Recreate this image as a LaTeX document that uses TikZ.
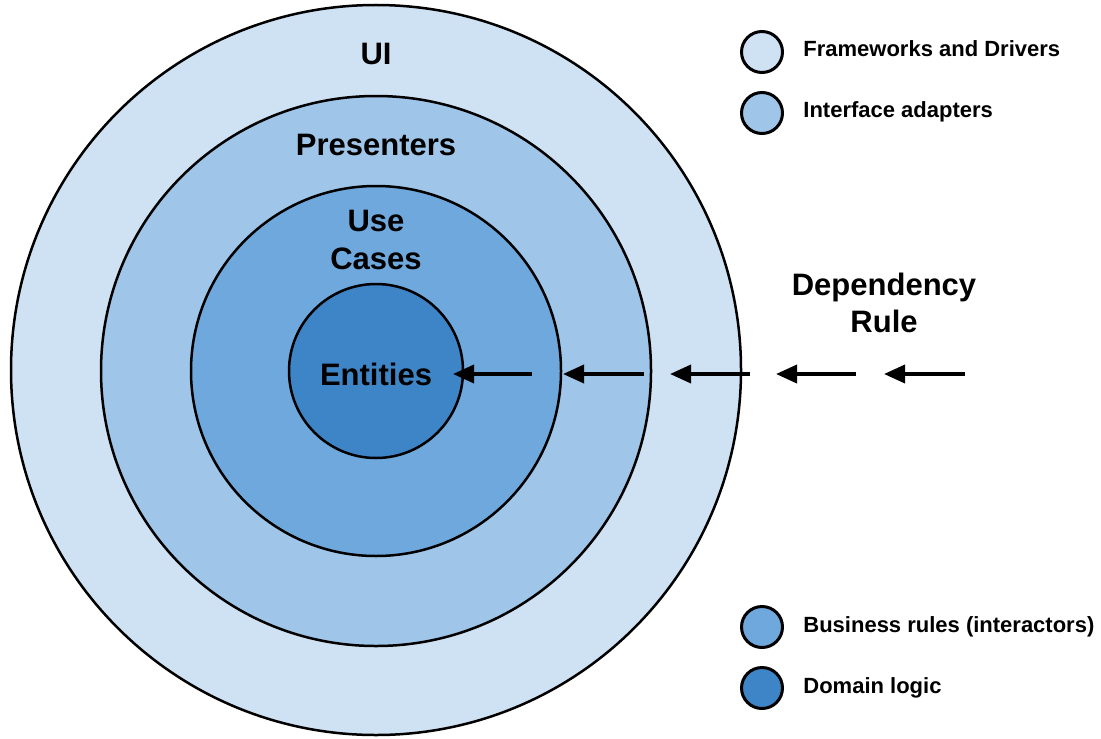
\documentclass[tikz,border=0pt]{standalone}
\usepackage{fontspec}
\setmainfont{Liberation Sans}
\usetikzlibrary{arrows.meta}
\definecolor{fwcol}{HTML}{CFE2F3}
\definecolor{iacol}{HTML}{9FC5E8}
\definecolor{brcol}{HTML}{6FA8DC}
\definecolor{dlcol}{HTML}{3D85C6}
\begin{document}
\begin{tikzpicture}[x=0.5pt,y=-0.5pt,
  ring/.style={circle,draw=black,line width=1.25pt,inner sep=0pt,outer sep=0pt},
  lbl/.style={font=\bfseries\fontsize{15.5pt}{18pt}\selectfont,anchor=base,text=black,inner sep=0pt},
  legdot/.style={circle,draw=black,line width=1.5pt,minimum size=20.5pt,inner sep=0pt},
  legtxt/.style={font=\bfseries\fontsize{11pt}{13pt}\selectfont,anchor=base west,inner sep=0pt},
  deparrow/.style={-{Triangle[length=10.5pt,width=9pt]},line width=1.8pt}]
\useasboundingbox (0,0) rectangle (1101,738);
% rings
\node[ring,fill=fwcol,minimum size=365pt] (fw) at (376,370) {};
\node[ring,fill=iacol,minimum size=275pt] (ia) at (376,371) {};
\node[ring,fill=brcol,minimum size=185pt] (br) at (376,371) {};
\node[ring,fill=dlcol,minimum size=87pt] (dl) at (376,371) {};
% labels
\node[lbl] (ui) at (376,65) {UI};
\node[lbl] (pres) at (376,155) {Presenters};
\node[lbl] (use) at (376,231) {Use};
\node[lbl] (cases) at (376,269) {Cases};
\node[lbl] (ent) at (376,385) {Entities};
\node[lbl] (dep1) at (884,295) {Dependency};
\node[lbl] (dep2) at (884,332) {Rule};
% arrows
\coordinate (a1t) at (453,374); \coordinate (a1s) at (532,374);
\coordinate (a2t) at (563,374); \coordinate (a2s) at (644,374);
\coordinate (a3t) at (670,374); \coordinate (a3s) at (750,374);
\coordinate (a4t) at (776,374); \coordinate (a4s) at (856,374);
\coordinate (a5t) at (884,374); \coordinate (a5s) at (965,374);
\draw[deparrow] (a1s) -- (a1t);
\draw[deparrow] (a2s) -- (a2t);
\draw[deparrow] (a3s) -- (a3t);
\draw[deparrow] (a4s) -- (a4t);
\draw[deparrow] (a5s) -- (a5t);
% legend
\node[legdot,fill=fwcol] (l1) at (762,52) {};
\node[legdot,fill=iacol] (l2) at (762,113) {};
\node[legdot,fill=brcol] (l3) at (762,627) {};
\node[legdot,fill=dlcol] (l4) at (762,688) {};
\node[legtxt] (t1) at (803,57) {Frameworks and Drivers};
\node[legtxt] (t2) at (803,118) {Interface adapters};
\node[legtxt] (t3) at (803,632) {Business rules (interactors)};
\node[legtxt] (t4) at (803,693) {Domain logic};
\end{tikzpicture}
\end{document}
